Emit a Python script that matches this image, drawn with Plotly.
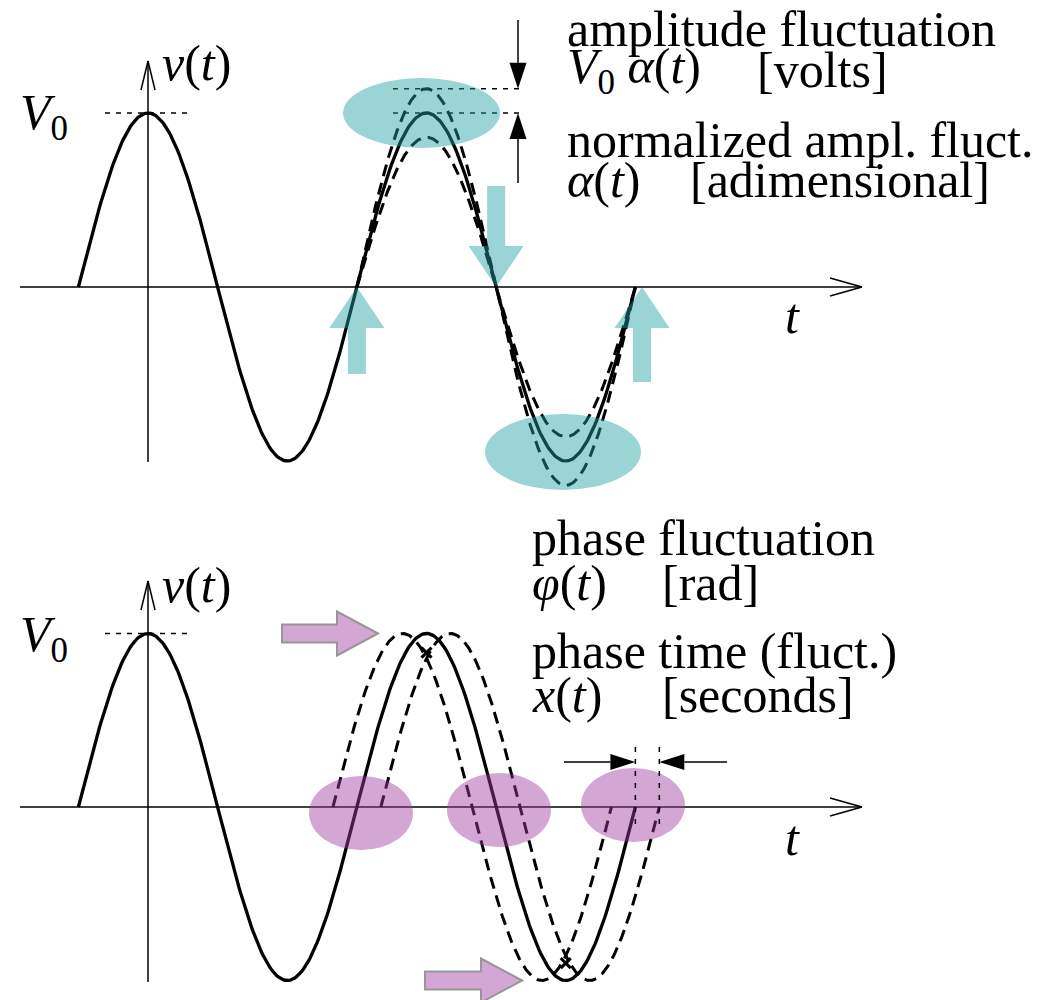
import numpy as np
import plotly.graph_objects as go

# ---------------- data (t in carrier periods, v in units of V0) ----------------
V0 = 1.0
t_nominal = [-0.25, 1.75]          # span of the nominal carrier v(t)=V0 cos(2*pi*t)
fluct_cycle = [0.75, 1.75]         # the cycle drawn with fluctuations
amp_factors = [1.14, 0.86]         # 1 +/- alpha  (amplitude fluctuation)
phase_shifts = [-0.086, 0.086]     # +/- x(t)/T   (phase-time fluctuation)
marker_t = [1.0, 1.5]              # "x" marks on the nominal peak / trough
marker_v = [0.89, -0.90]

labels_top = ["amplitude fluctuation", "normalized ampl. fluct."]
labels_bot = ["phase fluctuation", "phase time (fluct.)"]

# ---------------- layout geometry (page pixels; page body has an 8px margin) ----------------
OFF = 8
W, H = 1050 - OFF, 1000 - OFF
PX_PER_T = 278.5
X_ORIGIN = 148                       # page x of the v axis
Y_TOP0, Y_BOT0 = 287, 807            # page y of the t axes
AMP_TOP, AMP_BOT = 174.0, 173.5      # pixels per V0
SPLIT = OFF + H / 2                  # page y where the two panels meet
X0 = (OFF - X_ORIGIN) / PX_PER_T
X1 = (1050 - X_ORIGIN) / PX_PER_T
TOP_RANGE = [-(SPLIT - Y_TOP0) / AMP_TOP, (Y_TOP0 - OFF) / AMP_TOP]
BOT_RANGE = [-(1000 - Y_BOT0) / AMP_BOT, (Y_BOT0 - SPLIT) / AMP_BOT]
sx = 1 / PX_PER_T                    # t units per pixel
sy_top = 1 / AMP_TOP
sy_bot = 1 / AMP_BOT

def tx(p):                           # page x pixel -> t
    return (p - X_ORIGIN) * sx

CYAN = "rgb(31,160,160)"
PURPLE = "rgb(160,58,160)"
LAV = "rgb(212,166,212)"
FONT = "Liberation Serif"

def carrier(t0, t1, amp=1.0, shift=0.0, n=400):
    t = np.linspace(t0, t1, n)
    return t, amp * V0 * np.cos(2 * np.pi * (t - shift))

fig = go.Figure()
DASH = "12px,7px"

# ---- top panel: amplitude fluctuation ----
for a in amp_factors:
    t, v = carrier(fluct_cycle[0], fluct_cycle[1], amp=a)
    fig.add_trace(go.Scatter(x=t, y=v, mode="lines", xaxis="x", yaxis="y",
                             line=dict(color="black", width=3, dash=DASH)))
t, v = carrier(*t_nominal)
fig.add_trace(go.Scatter(x=t, y=v, mode="lines", xaxis="x", yaxis="y",
                         line=dict(color="black", width=3.3)))

# ---- bottom panel: phase fluctuation ----
for s in phase_shifts:
    t, v = carrier(fluct_cycle[0] + s, fluct_cycle[1] + s, shift=s)
    fig.add_trace(go.Scatter(x=t, y=v, mode="lines", xaxis="x2", yaxis="y2",
                             line=dict(color="black", width=3, dash=DASH)))
t, v = carrier(*t_nominal)
fig.add_trace(go.Scatter(x=t, y=v, mode="lines", xaxis="x2", yaxis="y2",
                         line=dict(color="black", width=3.3)))
fig.add_trace(go.Scatter(x=marker_t, y=marker_v, mode="markers", xaxis="x2", yaxis="y2",
                         marker=dict(symbol="x-thin", size=10,
                                     line=dict(color="black", width=3))))

shapes = []

def line(xr, yr, xa, ya, xb, yb, width=1.5, dash="solid", color="black"):
    shapes.append(dict(type="line", xref=xr, yref=yr, x0=xa, y0=ya, x1=xb, y1=yb,
                       line=dict(color=color, width=width, dash=dash), layer="above"))

def path(xr, yr, pts, fill, lc=None, lw=0, opacity=1.0, layer="above"):
    d = "M " + " L ".join(f"{p[0]},{p[1]}" for p in pts) + " Z"
    shapes.append(dict(type="path", xref=xr, yref=yr, path=d, fillcolor=fill,
                       line=dict(color=lc or fill, width=lw), opacity=opacity, layer=layer))

def ellipse(xr, yr, tc, vc, rx, ry, color):
    shapes.append(dict(type="circle", xref=xr, yref=yr, x0=tc - rx, x1=tc + rx,
                       y0=vc - ry, y1=vc + ry, fillcolor=color,
                       line=dict(width=0), opacity=0.45, layer="above"))

def axes(xr, yr, sy, v_bot):
    ta, tb = tx(20), tx(862)
    line(xr, yr, ta, 0, tb, 0)
    line(xr, yr, tb, 0, tb - 32 * sx, 9 * sy)
    line(xr, yr, tb, 0, tb - 32 * sx, -9 * sy)
    vtop = 226 * sy
    line(xr, yr, 0, v_bot, 0, vtop)
    line(xr, yr, 0, vtop, -7 * sx, vtop - 29 * sy)
    line(xr, yr, 0, vtop, 7 * sx, vtop - 29 * sy)
    line(xr, yr, tx(105), V0, tx(188), V0, dash="5px,6px")

def block_arrow_v(xr, yr, tc, tip, tail, sy):
    hl, hw, sw = 41 * sy, 27.5 * sx, 9 * sx
    d = 1 if tail < tip else -1
    hb = tip - d * hl
    pts = [(tc, tip), (tc + hw, hb), (tc + sw, hb), (tc + sw, tail),
           (tc - sw, tail), (tc - sw, hb), (tc - hw, hb)]
    path(xr, yr, pts, CYAN, opacity=0.45)

def block_arrow_h(xr, yr, tip_t, tail_t, vc, sy):
    hl, hh, sh = 41 * sx, 22 * sy, 9 * sy
    hb = tip_t - hl
    pts = [(tip_t, vc), (hb, vc + hh), (hb, vc + sh), (tail_t, vc + sh),
           (tail_t, vc - sh), (hb, vc - sh), (hb, vc - hh)]
    path(xr, yr, pts, LAV, lc="rgb(150,150,150)", lw=2)

def thin_arrow_v(xr, yr, tc, tail, tip, sy):
    d = 1 if tip > tail else -1
    hb = tip - d * 26 * sy
    line(xr, yr, tc, tail, tc, hb)
    path(xr, yr, [(tc, tip), (tc + 8.5 * sx, hb), (tc - 8.5 * sx, hb)], "black")

def thin_arrow_h(xr, yr, vc, tail, tip, sy):
    d = 1 if tip > tail else -1
    hb = tip - d * 25 * sx
    line(xr, yr, tail, vc, hb, vc)
    path(xr, yr, [(tip, vc), (hb, vc + 8 * sy), (hb, vc - 8 * sy)], "black")

# ---- top decorations ----
axes("x", "y", sy_top, -175 * sy_top)
for a in [amp_factors[0], 1.0]:
    line("x", "y", tx(393), a * V0, tx(523), a * V0, dash="5px,6px")
t_arr = tx(518)
thin_arrow_v("x", "y", t_arr, 267 * sy_top, amp_factors[0] * V0, sy_top)
thin_arrow_v("x", "y", t_arr, 104 * sy_top, 1.0 * V0, sy_top)
ellipse("x", "y", tx(421.5), 1.0, 78.5 * sx, 35 * sy_top, CYAN)
ellipse("x", "y", tx(563), -165 * sy_top, 78 * sx, 38 * sy_top, CYAN)
block_arrow_v("x", "y", 0.75, 0.0, -87 * sy_top, sy_top)
block_arrow_v("x", "y", 1.25, 0.0, 101 * sy_top, sy_top)
block_arrow_v("x", "y", tx(642), 0.0, -95 * sy_top, sy_top)

# ---- bottom decorations ----
axes("x2", "y2", sy_bot, -175 * sy_bot)
for pc, vc in [(361, -6 * sy_bot), (499, -3 * sy_bot), (633, 2 * sy_bot)]:
    ellipse("x2", "y2", tx(pc), vc, 52 * sx, 37 * sy_bot, PURPLE)
for s in [0.0, phase_shifts[1]]:
    line("x2", "y2", fluct_cycle[1] + s, 60 * sy_bot, fluct_cycle[1] + s, -19 * sy_bot,
         dash="5px,7px")
v_arr = 45 * sy_bot
thin_arrow_h("x2", "y2", v_arr, tx(564), fluct_cycle[1], sy_bot)
thin_arrow_h("x2", "y2", v_arr, tx(727), fluct_cycle[1] + phase_shifts[1], sy_bot)
block_arrow_h("x2", "y2", tx(378), tx(282), 1.0 * V0, sy_bot)
block_arrow_h("x2", "y2", tx(522), tx(425), -1.0 * V0, sy_bot)

# ---------------- text ----------------
S = 50
ann = []

def text(px, baseline, s, size=S):
    ann.append(dict(xref="paper", yref="paper", x=(px - OFF) / W,
                    y=1 - (baseline - 0.34 * size - OFF) / H, xanchor="left", yanchor="middle",
                    text=s, showarrow=False, font=dict(family=FONT, size=size, color="black")))

text(565, 46, labels_top[0])
text(565, 87, "<i>V</i><sub>0</sub> <i>α</i>(<i>t</i>)")
text(755, 87, "[volts]")
text(565, 157, labels_top[1])
text(565, 197, "<i>α</i>(<i>t</i>)")
text(688, 197, "[adimensional]")

text(530, 555, labels_bot[0])
text(530, 600, "<i>φ</i>(<i>t</i>)")
text(660, 600, "[rad]")
text(530, 668, labels_bot[1])
text(530, 712, "<i>x</i>(<i>t</i>)")
text(660, 712, "[seconds]")

for off in [0, 522]:
    text(160, 80 + off, "<i>v</i>(<i>t</i>)")
    text(18, 133 + off, "<i>V</i><sub>0</sub>")
    text(783, 333 + off, "<i>t</i>")

fig.update_layout(
    width=W, height=H, margin=dict(l=0, r=0, t=0, b=0),
    paper_bgcolor="white", plot_bgcolor="white", showlegend=False,
    xaxis=dict(range=[X0, X1], domain=[0, 1], anchor="y", visible=False),
    xaxis2=dict(range=[X0, X1], domain=[0, 1], anchor="y2", visible=False),
    yaxis=dict(range=TOP_RANGE, domain=[0.5, 1], anchor="x", visible=False),
    yaxis2=dict(range=BOT_RANGE, domain=[0, 0.5], anchor="x2", visible=False),
    shapes=shapes, annotations=ann,
)

fig.write_html("out.html")
